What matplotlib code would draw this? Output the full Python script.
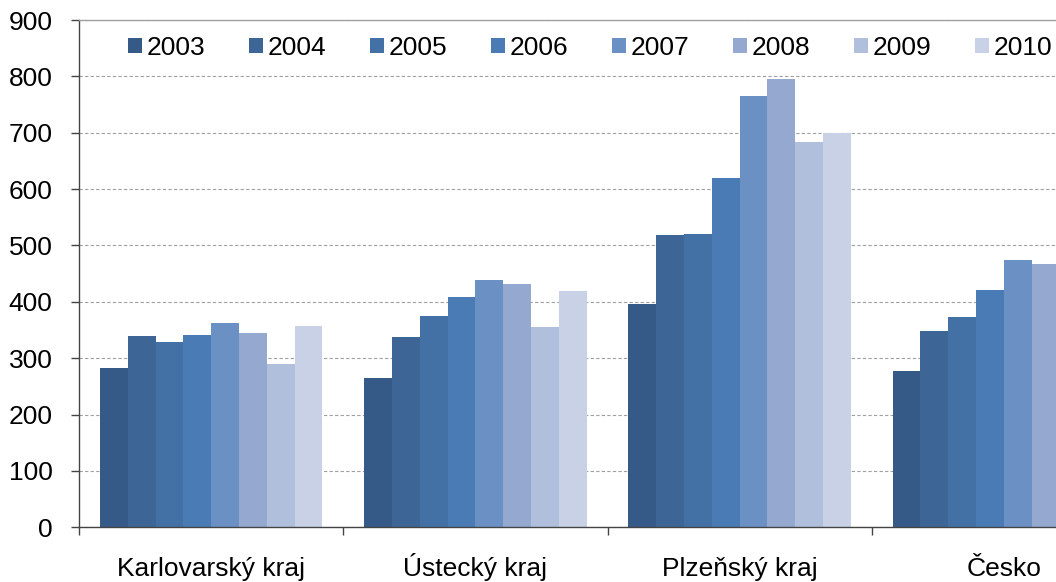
import matplotlib

matplotlib.use("Agg")
import matplotlib.pyplot as plt
import numpy as np

plt.rcParams["font.family"] = ["Liberation Sans", "DejaVu Sans"]

regions = ["Karlovarský kraj", "Ústecký kraj", "Plzeňský kraj", "Česko"]
years = ["2003", "2004", "2005", "2006", "2007", "2008", "2009", "2010"]
# hodnoty, po letech (řádek = rok, sloupec = region)
v2003 = [283, 265, 396, 278]
v2004 = [339, 338, 518, 348]
v2005 = [328, 374, 521, 373]
v2006 = [342, 408, 620, 421]
v2007 = [363, 439, 766, 475]
v2008 = [344, 431, 796, 468]
v2009 = [290, 356, 683, 441]
v2010 = [358, 419, 699, 461]
series = [v2003, v2004, v2005, v2006, v2007, v2008, v2009, v2010]
colors = ["#355a88", "#3d6697", "#4371a6", "#4a7bb5",
          "#6b90c4", "#95a9d0", "#b0c0dc", "#c8d1e5"]

W, H = 1056, 582
fs = 19
fig = plt.figure(figsize=(W / 100, H / 100), dpi=100)
# plocha grafu přesahuje pravý okraj obrázku (originál je oříznutý)
ax = fig.add_axes([79 / W, (H - 527.3) / H, (1136 - 79) / W, (527.3 - 20) / H])

x = np.arange(len(regions))
bw = 0.1052
for j, (vals, c, lab) in enumerate(zip(series, colors, years)):
    ax.bar(x + (j - 3.5) * bw, vals, width=bw, color=c, label=lab,
           edgecolor="none", zorder=2)

ax.set_xlim(-0.5, len(regions) - 0.5)
ax.set_ylim(0, 900)
ax.set_yticks(np.arange(0, 901, 100))
ax.yaxis.grid(True, color="#a0a0a0", linestyle=(0, (3, 2)), linewidth=0.8, zorder=1)
ax.tick_params(axis="y", length=6, width=1, color="#444444", pad=13,
               labelsize=fs)

ax.set_xticks(np.arange(-0.5, len(regions)), labels=[])
ax.set_xticks(x, labels=regions, minor=True)
ax.tick_params(axis="x", which="major", length=6, width=1, color="#444444")
ax.tick_params(axis="x", which="minor", length=0, pad=35, labelsize=fs)
for lbl in ax.get_xticklabels(minor=True):
    lbl.set_verticalalignment("baseline")

for s in ["left", "bottom"]:
    ax.spines[s].set_color("#444444")
    ax.spines[s].set_linewidth(1)
ax.spines["top"].set_color("#a0a0a0")
ax.spines["top"].set_linewidth(1)
ax.spines["right"].set_visible(False)

ax.legend(ncol=8, loc="center left", bbox_to_anchor=(128 / W, 1 - 48 / H),
          bbox_transform=fig.transFigure, frameon=False, fontsize=fs,
          handlelength=0.53, handleheight=0.53, handletextpad=0.19,
          columnspacing=1.64, borderpad=0, borderaxespad=0)

fig.savefig("out.png", dpi=100)
